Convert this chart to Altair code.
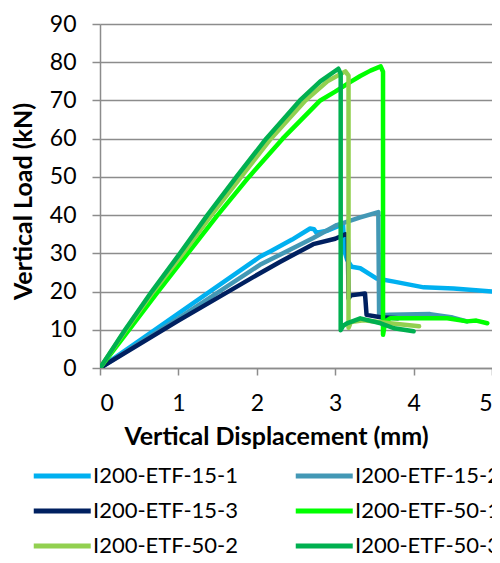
import altair as alt
import pandas as pd

# ---- data ----
names = ["I200-ETF-15-1", "I200-ETF-15-2", "I200-ETF-15-3",
         "I200-ETF-50-1", "I200-ETF-50-2", "I200-ETF-50-3"]
colors = ["#00B0F0", "#4398B5", "#002060", "#00FF00", "#92D050", "#00B050"]

x_15_1 = [0, 0.7, 1.4, 2.04, 2.17, 2.45, 2.68, 2.73, 2.76, 2.9, 3.1, 3.12, 3.15, 3.21, 3.32, 3.53, 3.75, 4.13, 4.51, 5.0]
y_15_1 = [0, 10.0, 20.0, 29.1, 30.5, 33.6, 36.5, 36.3, 35.4, 35.9, 37.6, 30.5, 28.4, 26.5, 26.1, 23.4, 22.6, 21.1, 20.8, 20.0]

x_15_2 = [0, 1.0, 2.04, 2.72, 3.02, 3.32, 3.55, 3.56, 3.7, 4.21, 4.5, 4.68]
y_15_2 = [0, 13.0, 27.0, 34.0, 37.4, 39.4, 40.8, 13.8, 13.9, 14.1, 13.2, 12.2]

x_15_3 = [0, 1.0, 2.04, 2.3, 2.72, 3.0, 3.13, 3.16, 3.17, 3.2, 3.38, 3.4, 3.58, 3.8]
y_15_3 = [0, 12.4, 24.8, 27.8, 32.4, 33.8, 35.0, 34.6, 18.2, 19.0, 19.5, 13.9, 13.3, 13.0]

x_50_1 = [0, 0.37, 0.74, 1.12, 1.50, 1.90, 2.33, 2.81, 3.0, 3.19, 3.32, 3.45, 3.58, 3.61, 3.61, 3.64, 3.7, 4.0, 4.43, 4.68, 4.8, 4.94]
y_50_1 = [0, 10, 20, 30, 40, 50, 60, 70, 72.3, 74.8, 76.4, 77.8, 78.9, 77.5, 8.7, 12.2, 13.0, 13.0, 13.0, 12.2, 12.4, 11.7]

x_50_2 = [0, 0.33, 0.68, 1.06, 1.42, 1.80, 2.18, 2.62, 2.90, 3.13, 3.17, 3.17, 3.2, 3.36, 3.7, 4.07]
y_50_2 = [0, 10, 20, 30, 40, 50, 60, 70, 75.0, 77.6, 76.5, 10.5, 12.0, 12.5, 11.7, 10.9]

x_50_3 = [0, 0.32, 0.66, 1.02, 1.37, 1.74, 2.12, 2.55, 2.81, 3.04, 3.07, 3.07, 3.1, 3.15, 3.32, 3.58, 3.75, 4.0]
y_50_3 = [0, 10, 20, 30, 40, 50, 60, 70, 75.0, 78.3, 77.0, 9.9, 11.0, 11.7, 13.0, 11.7, 10.4, 9.6]

x_ticks = [0, 1, 2, 3, 4, 5]
y_ticks = [0, 10, 20, 30, 40, 50, 60, 70, 80, 90]

series_x = [x_15_1, x_15_2, x_15_3, x_50_1, x_50_2, x_50_3]
series_y = [y_15_1, y_15_2, y_15_3, y_50_1, y_50_2, y_50_3]

rows = []
for name, xs, ys in zip(names, series_x, series_y):
    for i, (xv, yv) in enumerate(zip(xs, ys)):
        rows.append({"series": name, "i": i, "x": xv, "y": yv})
df = pd.DataFrame(rows)

FONT = "Lato"
GRID = "#8C8C8C"

chart = alt.Chart(df).mark_line(
    strokeWidth=4.5, strokeCap="round", strokeJoin="round", clip=True
).encode(
    x=alt.X("x:Q", scale=alt.Scale(domain=[0, 5], nice=False),
            axis=alt.Axis(values=x_ticks, title="Vertical Displacement (mm)",
                          grid=False, tickSize=7, labelPadding=17,
                          titleX=176, titleY=76, titleBaseline="alphabetic",
                          titleAlign="center")),
    y=alt.Y("y:Q", scale=alt.Scale(domain=[0, 90], nice=False),
            axis=alt.Axis(values=y_ticks, title="Vertical Load (kN)",
                          grid=True, tickSize=8, labelPadding=16,
                          titleX=-69, titleY=177, titleBaseline="alphabetic",
                          titleAlign="center")),
    color=alt.Color("series:N", scale=alt.Scale(domain=names, range=colors),
                    legend=alt.Legend(title=None, orient="none", legendX=-69, legendY=435,
                                      columns=2, columnPadding=46, rowPadding=7,
                                      direction="horizontal",
                                      symbolType="M-1,0H3", symbolSize=812,
                                      symbolStrokeWidth=5, labelOffset=28,
                                      labelFont=FONT, labelFontSize=22,
                                      labelColor="#000000", labelLimit=300)),
    order=alt.Order("i:Q"),
).properties(
    width=392, height=344,
    autosize=alt.AutoSizeParams(type="none"),
    padding={"left": 92, "top": 16, "right": 0, "bottom": 187},
).configure_axis(
    labelFont=FONT, labelFontSize=23, labelColor="#000000",
    titleFont=FONT, titleFontSize=25, titleFontWeight="bold", titleColor="#000000",
    domainColor=GRID, domainWidth=1.5, tickColor=GRID, tickWidth=1.5,
    gridColor=GRID, gridWidth=1.5, gridOpacity=1,
).configure_view(stroke=None)

chart.save("out.html", embed_options={"renderer": "svg", "actions": False})
